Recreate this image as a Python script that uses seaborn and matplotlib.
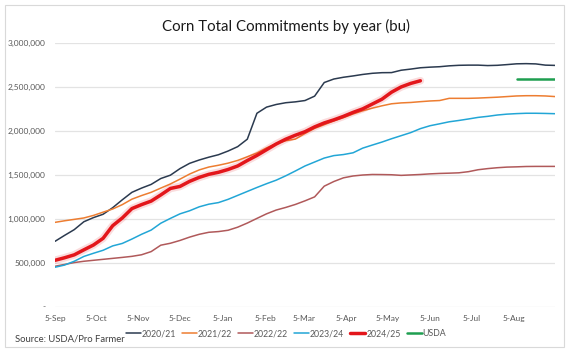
import pandas as pd
import matplotlib.pyplot as plt
import matplotlib.dates as mdates
import matplotlib.ticker as mticker
import seaborn as sns

OUTPUT_FIG = 'out.png'

# weekly commitments, thousand bushels, starting 5-Sep
weeks = pd.date_range('2024-09-05', periods=53, freq='7D')

y2020 = [742, 810, 875, 965, 1012, 1050, 1125, 1215, 1300, 1348, 1390, 1457, 1495, 1570,
         1630, 1668, 1700, 1728, 1770, 1820, 1905, 2200, 2270, 2300, 2320, 2330, 2345, 2395,
         2550, 2590, 2610, 2625, 2642, 2655, 2662, 2663, 2690, 2703, 2718, 2725, 2730, 2740,
         2746, 2748, 2748, 2743, 2746, 2754, 2763, 2765, 2762, 2748, 2745]
y2021 = [958, 976, 992, 1008, 1037, 1074, 1110, 1160, 1222, 1263, 1300, 1348, 1395, 1450,
         1508, 1555, 1588, 1608, 1632, 1663, 1705, 1748, 1806, 1855, 1887, 1906, 1970, 2028,
         2070, 2113, 2150, 2192, 2228, 2258, 2285, 2308, 2318, 2323, 2332, 2340, 2345, 2370,
         2370, 2370, 2373, 2378, 2383, 2390, 2397, 2400, 2400, 2397, 2390]
y2022 = [458, 479, 500, 515, 526, 537, 548, 559, 571, 589, 625, 698, 720, 752,
         790, 822, 845, 853, 868, 903, 950, 1003, 1055, 1098, 1128, 1162, 1203, 1248,
         1370, 1423, 1465, 1486, 1497, 1503, 1502, 1500, 1493, 1498, 1503, 1510, 1515, 1518,
         1522, 1535, 1557, 1570, 1580, 1587, 1590, 1594, 1595, 1595, 1595]
y2023 = [447, 472, 515, 570, 606, 640, 690, 718, 768, 822, 870, 948, 1003, 1055,
         1090, 1135, 1165, 1183, 1220, 1265, 1310, 1355, 1398, 1438, 1488, 1543, 1600, 1645,
         1690, 1718, 1730, 1750, 1803, 1838, 1872, 1910, 1945, 1980, 2025, 2058, 2080, 2103,
         2118, 2135, 2153, 2165, 2180, 2190, 2196, 2200, 2200, 2198, 2195]
y2024 = [526, 555, 588, 645, 700, 776, 920, 1008, 1115, 1160, 1200, 1270, 1344, 1367,
         1425, 1470, 1505, 1528, 1560, 1600, 1662, 1720, 1785, 1850, 1905, 1950, 1990, 2045,
         2090, 2125, 2165, 2210, 2250, 2305, 2360, 2440, 2500, 2540, 2570]
usda = [2590, 2590, 2590, 2590, 2590]

series = [
    ('2020/21', y2020, '#2B3A4F', 1.1),
    ('2021/22', y2021, '#ED7D31', 1.1),
    ('2022/22', y2022, '#B0595A', 1.1),
    ('2023/24', y2023, '#22A6D6', 1.1),
    ('2024/25', y2024, '#E3161B', 2.5),
    ('USDA', usda, '#1E9E50', 1.8),
]

sns.set_style('white')
plt.rcParams['font.family'] = ['Lato', 'DejaVu Sans']

fig = plt.figure(figsize=(5.72, 3.54), dpi=100)
ax = fig.add_axes([55 / 572, 1 - 306.5 / 354, 500 / 572, (306.5 - 43) / 354])

for name, vals, color, lw in series:
    x = weeks[:len(vals)] if name != 'USDA' else weeks[-len(vals):]
    y = [v * 1000 for v in vals]
    if name == '2024/25':
        # soft glow under the current year line
        sns.lineplot(x=x, y=y, ax=ax, color=color, lw=5.5, alpha=0.15, legend=False)
    sns.lineplot(x=x, y=y, ax=ax, color=color, lw=lw, label=name, legend=False)

ax.set_ylim(0, 3_000_000)
ax.set_xlim(weeks[0], weeks[-1])
ax.yaxis.set_major_locator(mticker.MultipleLocator(500_000))
ax.yaxis.set_major_formatter(mticker.FuncFormatter(lambda v, p: '-' if v == 0 else f'{int(v):,}'))
ax.grid(axis='y', color='#E3E3E3', lw=0.9)
ax.set_axisbelow(True)
for s in ax.spines.values():
    s.set_visible(False)

month_ticks = pd.date_range('2024-09-01', periods=12, freq='MS') + pd.Timedelta(days=4)
ax.set_xticks(month_ticks)
ax.xaxis.set_major_formatter(mdates.DateFormatter('%-d-%b'))
ax.tick_params(axis='both', length=0, labelsize=6, labelcolor='#595959')
ax.tick_params(axis='y', pad=7)
ax.tick_params(axis='x', pad=6)
ax.set_xlabel('')
ax.set_ylabel('')

fig.text(0.5, 1 - 26 / 354, 'Corn Total Commitments by year (bu)', ha='center', va='center',
         fontsize=10.8, color='#1A1A1A')
fig.text(15 / 572, 1 - 339 / 354, 'Source: USDA/Pro Farmer', ha='left', va='center',
         fontsize=6.8, color='#404040')

handles, labels = ax.get_legend_handles_labels()
fig.legend(handles, labels, loc='center', bbox_to_anchor=(286 / 572, 1 - 334 / 354), ncol=6,
           frameon=False, fontsize=6.3, handlelength=1.7, handletextpad=0.1, columnspacing=0.7,
           labelcolor='#595959')

# chart border
fig.add_artist(plt.Rectangle((5 / 572, 1 - 347 / 354), 559 / 572, 342 / 354,
                             transform=fig.transFigure, fill=False, ec='#D9D9D9', lw=0.8))

plt.savefig(OUTPUT_FIG, dpi=100)
